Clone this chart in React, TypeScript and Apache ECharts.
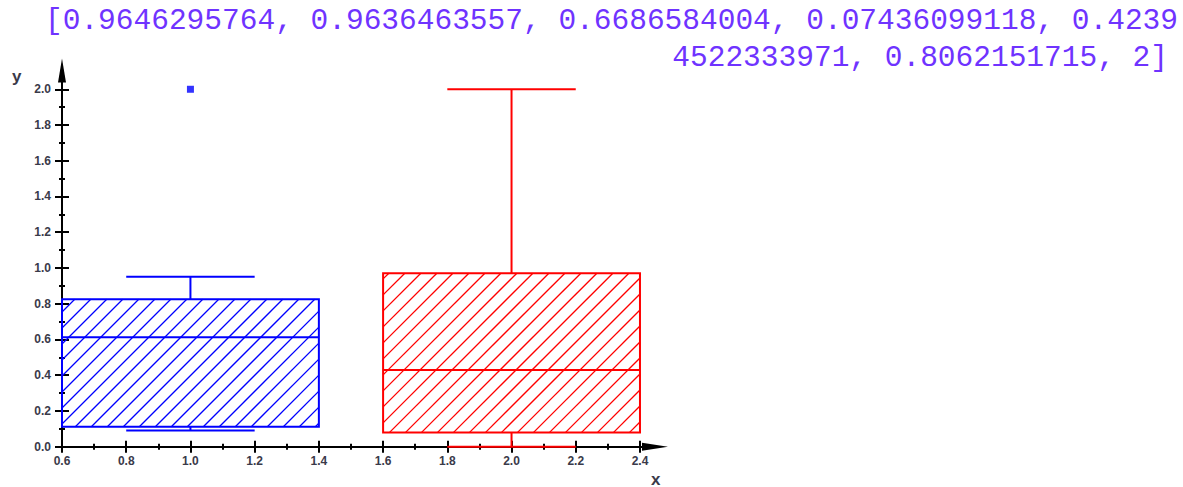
import React, { useEffect, useRef } from "react";
import * as echarts from "echarts";

// ---- data ----
const xTickValues = [0.6, 0.8, 1.0, 1.2, 1.4, 1.6, 1.8, 2.0, 2.2, 2.4];
const xMinorValues = [0.7, 0.9, 1.1, 1.3, 1.5, 1.7, 1.9, 2.1, 2.3];
const yTickValues = [0, 0.2, 0.4, 0.6, 0.8, 1.0, 1.2, 1.4, 1.6, 1.8, 2.0];
const yMinorValues = [0.1, 0.3, 0.5, 0.7, 0.9, 1.1, 1.3, 1.5, 1.7, 1.9];

const boxPositions = [1.0, 2.0];
const whiskerLow = [0.09, 0.0];
const quartile1 = [0.112, 0.08];
const medians = [0.612, 0.429];
const quartile3 = [0.825, 0.971];
const whiskerHigh = [0.951, 2.0];
const outlierPoints = [[1.0, 2.0]];

const dataLine1 = "[0.9646295764, 0.9636463557, 0.6686584004, 0.07436099118, 0.4239";
const dataLine2 = "4522333971, 0.8062151715, 2]";

// ---- styles ----
const BOX_COLORS = ["#0000ff", "#ff0000"];
const BOX_HALF = 0.4;
const CAP_HALF = 0.2;
const X_MIN = 0.6;
const X_MAX = 2.4468;
const Y_MIN = 0;
const Y_MAX = 2.105;
const LABEL_FONT = "'Liberation Sans', Arial, sans-serif";
const TEXT_COLOR = "#6f33ff";
const MONO_FONT = "29.5px 'Liberation Mono', monospace";

function makeX(values: number[], len: number, inside: boolean, main: boolean) {
  return {
    type: "value",
    position: "bottom",
    min: X_MIN,
    max: X_MAX,
    axisLine: main
      ? {
          show: true,
          onZero: false,
          symbol: ["none", "triangle"],
          symbolSize: [8, 26],
          lineStyle: { color: "#000", width: 2 },
        }
      : { show: false, onZero: false },
    axisTick: { show: true, inside, length: len, customValues: values, lineStyle: { color: "#000", width: 2 } },
    axisLabel: main
      ? {
          show: true,
          customValues: values,
          formatter: (v: number) => v.toFixed(1),
          margin: 8,
          fontSize: 12,
          fontWeight: "bold",
          color: "#3a3a4a",
          fontFamily: LABEL_FONT,
        }
      : { show: false },
    splitLine: { show: false },
  };
}

function makeY(values: number[], len: number, inside: boolean, main: boolean) {
  return {
    type: "value",
    position: "left",
    min: Y_MIN,
    max: Y_MAX,
    axisLine: main
      ? {
          show: true,
          onZero: false,
          symbol: ["none", "triangle"],
          symbolSize: [8, 24],
          lineStyle: { color: "#000", width: 2 },
        }
      : { show: false, onZero: false },
    axisTick: { show: true, inside, length: len, customValues: values, lineStyle: { color: "#000", width: 2 } },
    axisLabel: main
      ? {
          show: true,
          customValues: values,
          formatter: (v: number) => v.toFixed(1),
          margin: 11,
          fontSize: 12,
          fontWeight: "bold",
          color: "#3a3a4a",
          fontFamily: LABEL_FONT,
        }
      : { show: false },
    splitLine: { show: false },
  };
}

export default function App() {
  const ref = useRef<HTMLDivElement>(null);
  useEffect(() => {
    if (!ref.current) return;
    const chart = echarts.init(ref.current, null, { renderer: "svg" });
    const boxData = boxPositions.map((x, i) => [
      x,
      whiskerLow[i],
      quartile1[i],
      medians[i],
      quartile3[i],
      whiskerHigh[i],
    ]);
    const option: any = {
      animation: false,
      backgroundColor: "#fff",
      grid: { left: 62, top: 70.5, width: 593, height: 376.2, containLabel: false, outerBoundsMode: "none" },
      xAxis: [
        makeX(xTickValues, 6, false, true),
        makeX(xTickValues, 6, true, false),
        makeX(xMinorValues, 3, false, false),
        makeX(xMinorValues, 3, true, false),
      ],
      yAxis: [
        makeY(yTickValues, 7, false, true),
        makeY(yTickValues, 7, true, false),
        makeY(yMinorValues, 3, false, false),
        makeY(yMinorValues, 3, true, false),
      ],
      graphic: [
        {
          type: "text",
          x: 45,
          y: 21,
          z: 5,
          style: {
            text: dataLine1,
            font: MONO_FONT,
            fill: TEXT_COLOR,
            textVerticalAlign: "middle",
          },
        },
        {
          type: "text",
          x: 1168,
          y: 58,
          z: 5,
          style: {
            text: dataLine2,
            font: MONO_FONT,
            fill: TEXT_COLOR,
            textAlign: "right",
            textVerticalAlign: "middle",
          },
        },
        {
          type: "rect",
          z: 10,
          shape: { x: 650, y: 40, width: 20, height: 38 },
          style: { fill: "#fff" },
        },
        {
          type: "text",
          x: 12,
          y: 76,
          z: 5,
          style: { text: "y", font: "bold 17px " + LABEL_FONT, fill: "#3a3a4a", textVerticalAlign: "middle" },
        },
        {
          type: "text",
          x: 651,
          y: 479,
          z: 5,
          style: { text: "x", font: "bold 17px " + LABEL_FONT, fill: "#3a3a4a", textVerticalAlign: "middle" },
        },
      ],
      series: [
        {
          type: "custom",
          xAxisIndex: 0,
          yAxisIndex: 0,
          data: boxData,
          z: 5,
          renderItem: (params: any, api: any) => {
            const i = params.dataIndex;
            const x = api.value(0);
            const lo = api.value(1);
            const q1 = api.value(2);
            const med = api.value(3);
            const q3 = api.value(4);
            const hi = api.value(5);
            const color = BOX_COLORS[i];
            const pTL = api.coord([x - BOX_HALF, q3]);
            const pBR = api.coord([x + BOX_HALF, q1]);
            const xl = pTL[0], yTop = pTL[1], xr = pBR[0], yBot = pBR[1];
            const xc = api.coord([x, med])[0];
            const yMed = api.coord([x, med])[1];
            const yHi = api.coord([x, hi])[1];
            const yLo = api.coord([x, lo])[1];
            const xcl = api.coord([x - CAP_HALF, 0])[0];
            const xcr = api.coord([x + CAP_HALF, 0])[0];
            const children: any[] = [];
            const step = 16;
            const phase = 6;
            const cMin = xl + yTop;
            const cMax = xr + yBot;
            let c = Math.ceil((cMin - phase) / step) * step + phase;
            for (; c <= cMax; c += step) {
              const a = Math.max(xl, c - yBot);
              const b = Math.min(xr, c - yTop);
              if (b - a > 0.5) {
                children.push({
                  type: "line",
                  shape: { x1: a, y1: c - a, x2: b, y2: c - b },
                  style: { stroke: color, lineWidth: 1.3 },
                });
              }
            }
            children.push({
              type: "rect",
              shape: { x: xl, y: yTop, width: xr - xl, height: yBot - yTop },
              style: { fill: "none", stroke: color, lineWidth: 2 },
            });
            children.push({
              type: "line",
              shape: { x1: xl, y1: yMed, x2: xr, y2: yMed },
              style: { stroke: color, lineWidth: 2 },
            });
            children.push({
              type: "line",
              shape: { x1: xc, y1: yTop, x2: xc, y2: yHi },
              style: { stroke: color, lineWidth: 2 },
            });
            children.push({
              type: "line",
              shape: { x1: xcl, y1: yHi, x2: xcr, y2: yHi },
              style: { stroke: color, lineWidth: 2 },
            });
            children.push({
              type: "line",
              shape: { x1: xc, y1: yBot, x2: xc, y2: yLo },
              style: { stroke: color, lineWidth: 2 },
            });
            children.push({
              type: "line",
              shape: { x1: xcl, y1: yLo, x2: xcr, y2: yLo },
              style: { stroke: color, lineWidth: 2 },
            });
            return { type: "group", children };
          },
        },
        {
          type: "scatter",
          xAxisIndex: 0,
          yAxisIndex: 0,
          data: outlierPoints,
          symbol: "rect",
          symbolSize: 7,
          z: 6,
          itemStyle: { color: "#0000ff" },
        },
      ],
    };
    chart.setOption(option);
    return () => chart.dispose();
  }, []);
  return (
    <div
      ref={ref}
      style={{ position: "absolute", left: 0, top: 0, width: 1183, height: 487 }}
    />
  );
}
